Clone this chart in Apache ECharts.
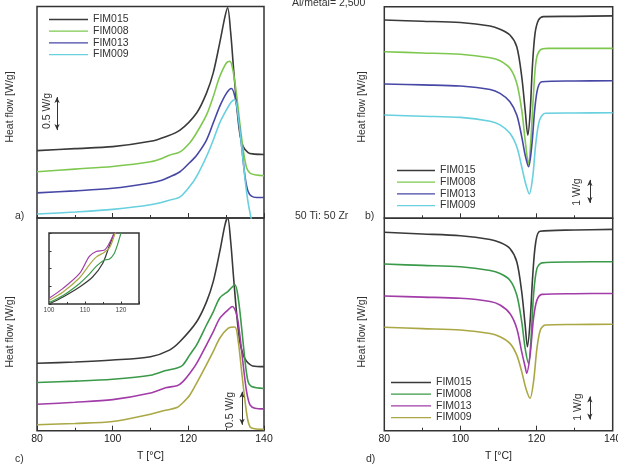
<!DOCTYPE html>
<html>
<head>
<meta charset="utf-8">
<script src="https://cdn.jsdelivr.net/npm/echarts@6/dist/echarts.min.js"></script>
<style>
  html, body { margin: 0; padding: 0; background: #fff; }
  #chart { width: 618px; height: 469px; }
</style>
</head>
<body>
<div id="chart"></div>
<script>
// sample names
const samples = ['FIM015', 'FIM008', 'FIM013', 'FIM009'];
const xTicks = [80, 100, 120, 140];

// a) crystallization, Al/metal 2500  (T in °C, heat flow W/g, offset)
const aT015 = [80, 90, 100, 110, 114, 117.8, 122.2, 124.8, 126.6, 128.3, 129.7, 130.4, 131.2, 131.9, 132.8, 133.6, 134.5, 135.8, 137, 140];
const a015  = [1.02, 1.05, 1.08, 1.16, 1.23, 1.33, 1.59, 1.89, 2.2, 2.65, 3.05, 3.18, 2.8, 2.3, 1.69, 1.28, 1.08, 0.99, 0.97, 0.96];
const aT008 = [80, 90, 100, 110, 113, 115, 117.8, 120.4, 122.2, 124.8, 126.6, 128.3, 130.1, 131, 131.9, 132.8, 133.6, 134.5, 135.4, 136.3, 138, 140];
const a008  = [0.70, 0.74, 0.78, 0.85, 0.90, 0.95, 1.0, 1.14, 1.29, 1.56, 1.84, 2.14, 2.35, 2.37, 2.2, 1.84, 1.44, 1.03, 0.76, 0.68, 0.65, 0.64];
const aT013 = [80, 90, 100, 110, 113, 115, 117.8, 120.4, 122.2, 124.8, 126.6, 128.3, 130.1, 131.4, 132.3, 133.2, 134.1, 135, 135.8, 136.7, 138, 140];
const a013  = [0.38, 0.41, 0.45, 0.53, 0.57, 0.62, 0.70, 0.84, 0.95, 1.18, 1.44, 1.69, 1.89, 1.96, 1.84, 1.53, 1.08, 0.62, 0.40, 0.33, 0.31, 0.31];
const aT009 = [80, 90, 100, 110, 115, 117.8, 120.4, 122.2, 124.8, 126.6, 128.3, 130.1, 131.4, 132.3, 133.2, 134.1, 135, 135.7, 136.3, 137, 140];
const a009  = [0.06, 0.09, 0.13, 0.20, 0.27, 0.32, 0.48, 0.63, 0.93, 1.18, 1.44, 1.64, 1.76, 1.79, 1.53, 1.08, 0.58, 0.27, 0.08, -0.05, -0.1];

// c) crystallization, 50 Ti : 50 Zr
const cT015 = [80, 90, 100, 110, 115, 117.8, 122.2, 124.8, 126.6, 128.3, 129.7, 130.4, 131.2, 131.9, 132.8, 133.6, 134.5, 135.4, 137, 140];
const c015  = [1.02, 1.04, 1.07, 1.12, 1.22, 1.35, 1.65, 1.95, 2.26, 2.71, 3.12, 3.23, 2.86, 2.36, 1.75, 1.35, 1.15, 1.05, 0.98, 0.97];
const cT008 = [80, 90, 100, 110, 114, 117, 118.5, 120.4, 122.2, 124.8, 126.6, 128.3, 130.5, 132.3, 133.2, 134.1, 135, 135.8, 136.7, 140];
const c008  = [0.73, 0.75, 0.78, 0.84, 0.91, 0.95, 0.99, 1.15, 1.30, 1.60, 1.80, 2.01, 2.11, 2.21, 2.0, 1.55, 1.05, 0.74, 0.67, 0.64];
const cT013 = [80, 90, 100, 110, 114, 117, 118.5, 120.4, 122.2, 124.8, 126.6, 128.3, 130.5, 131.6, 132.8, 133.6, 134.5, 135.4, 136.3, 137.6, 140];
const c013  = [0.40, 0.43, 0.47, 0.57, 0.65, 0.68, 0.74, 0.87, 1.02, 1.30, 1.50, 1.70, 1.83, 1.88, 1.75, 1.45, 1.0, 0.59, 0.39, 0.34, 0.33];
const cT009 = [80, 90, 100, 110, 114, 117, 118.5, 120.4, 122.2, 124.8, 126.6, 128.3, 130.5, 132.3, 133.2, 134.1, 135, 135.8, 136.7, 140];
const c009  = [0.09, 0.11, 0.14, 0.25, 0.31, 0.35, 0.42, 0.54, 0.72, 1.0, 1.20, 1.40, 1.55, 1.57, 1.35, 0.89, 0.44, 0.14, 0.04, 0.02];

// b) melting, Al/metal 2500
const bT015 = [80, 90, 100, 107.8, 110.4, 113, 114.8, 116.1, 117, 117.7, 118.3, 118.9, 119.6, 120.5, 121.8, 130, 140];
const b015  = [8.62, 8.57, 8.51, 8.36, 8.22, 7.97, 7.46, 6.16, 4.71, 3.62, 4.57, 6.59, 8.04, 8.62, 8.77, 8.78, 8.8];
const bT008 = [80, 90, 100, 107.8, 110.4, 113, 114.8, 116.1, 117, 117.9, 118.5, 119.2, 119.9, 121, 123, 140];
const b008  = [7.24, 7.19, 7.13, 6.98, 6.85, 6.52, 5.87, 4.71, 3.40, 2.32, 3.40, 5.43, 6.88, 7.32, 7.39, 7.39];
const bT013 = [80, 90, 100, 107.8, 110.4, 113, 114.8, 116.1, 117, 117.9, 118.8, 119.5, 120.3, 121.4, 130, 140];
const b013  = [5.84, 5.80, 5.75, 5.60, 5.43, 5.07, 4.49, 3.55, 2.75, 2.24, 3.26, 4.71, 5.65, 5.94, 5.97, 5.98];
const bT009 = [80, 90, 100, 107.8, 110.4, 113, 114.8, 116.1, 117, 118.1, 119, 119.8, 120.8, 122.3, 130, 140];
const b009  = [4.49, 4.44, 4.39, 4.22, 4.06, 3.70, 3.11, 2.24, 1.59, 1.06, 1.81, 3.26, 4.27, 4.57, 4.58, 4.59];

// d) melting, 50 Ti : 50 Zr
const dT015 = [80, 90, 100, 107.8, 110.4, 113, 114.8, 116.1, 117, 117.6, 118.3, 119, 119.8, 120.9, 130, 140];
const d015  = [8.63, 8.56, 8.48, 8.32, 8.19, 7.93, 7.35, 6.04, 4.60, 3.65, 4.74, 6.77, 8.22, 8.68, 8.73, 8.76];
const dT008 = [80, 90, 100, 107.8, 110.4, 113, 114.8, 116.1, 117, 117.9, 118.5, 119.2, 120.1, 121.4, 130, 140];
const d008  = [7.25, 7.19, 7.13, 6.97, 6.84, 6.55, 5.90, 4.74, 3.58, 2.93, 3.87, 5.90, 7.06, 7.30, 7.34, 7.35];
const dT013 = [80, 90, 100, 107.8, 110.4, 113, 114.8, 116.1, 117, 117.4, 118.3, 119.2, 120.1, 121.4, 130, 140];
const d013  = [5.86, 5.81, 5.76, 5.62, 5.47, 5.10, 4.45, 3.43, 2.78, 2.50, 3.29, 4.89, 5.68, 5.93, 5.96, 5.97];
const dT009 = [80, 90, 100, 107.8, 110.4, 113, 114.8, 116.1, 117.2, 118.3, 119.2, 120.1, 121, 122.3, 130, 140];
const d009  = [4.50, 4.44, 4.38, 4.23, 4.09, 3.80, 3.29, 2.57, 1.84, 1.41, 2.13, 3.58, 4.38, 4.60, 4.62, 4.63];

// inset of c), 100-125 °C (normalised)
const iT015 = [100, 103.9, 108.5, 112.1, 114.9, 116.7, 118.1, 119];
const i015  = [0.0, 0.10, 0.24, 0.38, 0.57, 0.81, 1.0, 1.15];
const iT008 = [100, 103.9, 108.5, 111.2, 113.1, 115.4, 116.7, 118, 119, 120, 120.8];
const i008  = [0.02, 0.12, 0.29, 0.42, 0.53, 0.62, 0.63, 0.70, 0.83, 1.0, 1.12];
const iT013 = [100, 103.9, 108.5, 111.2, 113.1, 115.4, 116.7, 118.1, 119];
const i013  = [0.08, 0.22, 0.43, 0.67, 0.74, 0.76, 0.85, 1.0, 1.12];
const iT009 = [100, 103.9, 108.5, 111.2, 113.1, 115.4, 116.9, 118.4, 119.3];
const i009  = [0.05, 0.17, 0.37, 0.55, 0.66, 0.73, 0.80, 1.0, 1.12];

const colorsTop = ['#3a3a3a', '#7ec850', '#4747a6', '#68d0de'];
const colorsBot = ['#3a3a3a', '#3a9a4a', '#a23ca8', '#aaa845'];

const pairs = (t, v) => t.map((x, i) => [x, v[i]]);
const FONT = 'Liberation Sans, Arial, sans-serif';
const AX = '#333';

const grids = [
  { left: 37, top: 6.5, width: 227, height: 211.5 },      // a
  { left: 384.3, top: 6.7, width: 228.4, height: 211.6 }, // b
  { left: 37, top: 218, width: 227, height: 212.7 },      // c
  { left: 384.3, top: 218.3, width: 228.4, height: 212.4 },// d
  { left: 49, top: 233, width: 90, height: 71 }           // inset
].map(g => Object.assign({ show: true, borderColor: AX, borderWidth: 1.5, outerBoundsMode: 'none', containLabel: false }, g));

function mainX(idx, labels) {
  return {
    type: 'value', gridIndex: idx, min: 80, max: 140, interval: 20,
    axisLine: { show: false },
    axisTick: { show: true, inside: true, length: 5, lineStyle: { color: AX, width: 1 } },
    minorTick: { show: true, splitNumber: 2, length: 3, lineStyle: { color: AX, width: 1 } },
    splitLine: { show: false },
    axisLabel: { show: labels, color: '#222', fontSize: 10.5, fontFamily: FONT, margin: 3 },
    name: labels ? 'T [°C]' : '', nameLocation: 'middle', nameGap: 20,
    nameTextStyle: { color: '#222', fontSize: 10.5, fontFamily: FONT }
  };
}
function mainY(idx, max) {
  return {
    type: 'value', gridIndex: idx, min: 0, max: max,
    axisLine: { show: false }, axisTick: { show: false },
    axisLabel: { show: false }, splitLine: { show: false }
  };
}

const xAxis = [mainX(0, false), mainX(1, false), mainX(2, true), mainX(3, true), {
  type: 'value', gridIndex: 4, min: 100, max: 125, interval: 10,
  axisLine: { show: false },
  axisTick: { show: true, inside: true, length: 2.5, lineStyle: { color: AX } },
  minorTick: { show: true, splitNumber: 2, length: 2, lineStyle: { color: AX } },
  splitLine: { show: false },
  axisLabel: { color: '#444', fontSize: 6.5, fontFamily: FONT, margin: 3, showMaxLabel: false }
}];
const yAxis = [mainY(0, 3.2), mainY(1, 9.2), mainY(2, 3.22), mainY(3, 9.24), {
  type: 'value', gridIndex: 4, min: 0, max: 1, interval: 0.25,
  axisLine: { show: false },
  axisTick: { show: true, inside: true, length: 2.5, lineStyle: { color: AX } },
  axisLabel: { show: false }, splitLine: { show: false }
}];

function line(name, idx, t, v, color, width) {
  return {
    name: name, type: 'line', xAxisIndex: idx, yAxisIndex: idx,
    data: pairs(t, v), showSymbol: false, symbol: 'none', smooth: 0.3,
    color: color, lineStyle: { color: color, width: width || 1.6 },
    animation: false, silent: true
  };
}
function scaleBar(x, y0, y1) {
  return {
    silent: true, symbol: ['arrow', 'arrow'], symbolSize: [4, 6], animation: false,
    lineStyle: { color: '#333', width: 1, type: 'solid' }, label: { show: false },
    data: [[{ coord: [x, y0] }, { coord: [x, y1] }]]
  };
}

const panels = [
  { idx: 0, key: 'a', colors: colorsTop, data: [[aT015, a015], [aT008, a008], [aT013, a013], [aT009, a009]], bar: [85.3, 1.33, 1.83] },
  { idx: 1, key: 'b', colors: colorsTop, data: [[bT015, b015], [bT008, b008], [bT013, b013], [bT009, b009]], bar: [134, 0.67, 1.67] },
  { idx: 2, key: 'c', colors: colorsBot, data: [[cT015, c015], [cT008, c008], [cT013, c013], [cT009, c009]], bar: [134.2, 0.09, 0.59] },
  { idx: 3, key: 'd', colors: colorsBot, data: [[dT015, d015], [dT008, d008], [dT013, d013], [dT009, d009]], bar: [134, 0.49, 1.49] },
  { idx: 4, key: 'i', colors: colorsBot, data: [[iT015, i015], [iT008, i008], [iT013, i013], [iT009, i009]] }
];

const series = [];
panels.forEach(p => {
  p.data.forEach((d, k) => {
    const s = line(samples[k] + ' ' + p.key, p.idx, d[0], d[1], p.colors[k], p.idx === 4 ? 1.2 : 1.6);
    if (k === 0 && p.bar) s.markLine = scaleBar(p.bar[0], p.bar[1], p.bar[2]);
    series.push(s);
  });
});

function legendFor(key, left, top, w) {
  return {
    data: samples.map(s => s + ' ' + key), left: left, top: top, orient: 'vertical',
    icon: 'rect', itemWidth: w, itemHeight: 1.3, itemGap: 0.7, selectedMode: false,
    formatter: n => n.split(' ')[0],
    textStyle: { color: '#333', fontSize: 10.5, fontFamily: FONT, lineHeight: 10 },
    padding: 0
  };
}

function txt(text, x, y, rot, size, align) {
  return {
    type: 'text', x: x, y: y, rotation: rot || 0, silent: true,
    style: {
      text: text, fill: '#333', font: (size || 10.5) + 'px ' + FONT,
      align: align || 'center', verticalAlign: 'middle',
      textAlign: align || 'center', textVerticalAlign: 'middle'
    }
  };
}
const R = Math.PI / 2;

const option = {
  backgroundColor: '#fff',
  animation: false,
  grid: grids,
  xAxis: xAxis,
  yAxis: yAxis,
  legend: [legendFor('a', 49, 14, 39), legendFor('b', 397, 165, 38), legendFor('d', 391, 377, 40)],
  series: series,
  graphic: [
    txt('Heat flow [W/g]', 10, 107, R),
    txt('Heat flow [W/g]', 362, 107, R),
    txt('Heat flow [W/g]', 10, 332, R),
    txt('Heat flow [W/g]', 362, 332, R),
    txt('0.5 W/g', 47.5, 111, R),
    txt('0.5 W/g', 230, 410, R),
    txt('1 W/g', 577, 192, R),
    txt('1 W/g', 578, 407, R),
    txt('a)', 15, 216, 0, 10.5, 'left'),
    txt('b)', 365, 216, 0, 10.5, 'left'),
    txt('c)', 15, 459, 0, 10.5, 'left'),
    txt('d)', 366, 459, 0, 10.5, 'left'),
    txt('50 Ti: 50 Zr', 295, 216, 0, 10.5, 'left'),
    txt('Al/metal= 2,500', 292, 3, 0, 10.5, 'left')
  ]
};

const chart = echarts.init(document.getElementById('chart'), null, { renderer: 'canvas' });
chart.setOption(option);
</script>
</body>
</html>
